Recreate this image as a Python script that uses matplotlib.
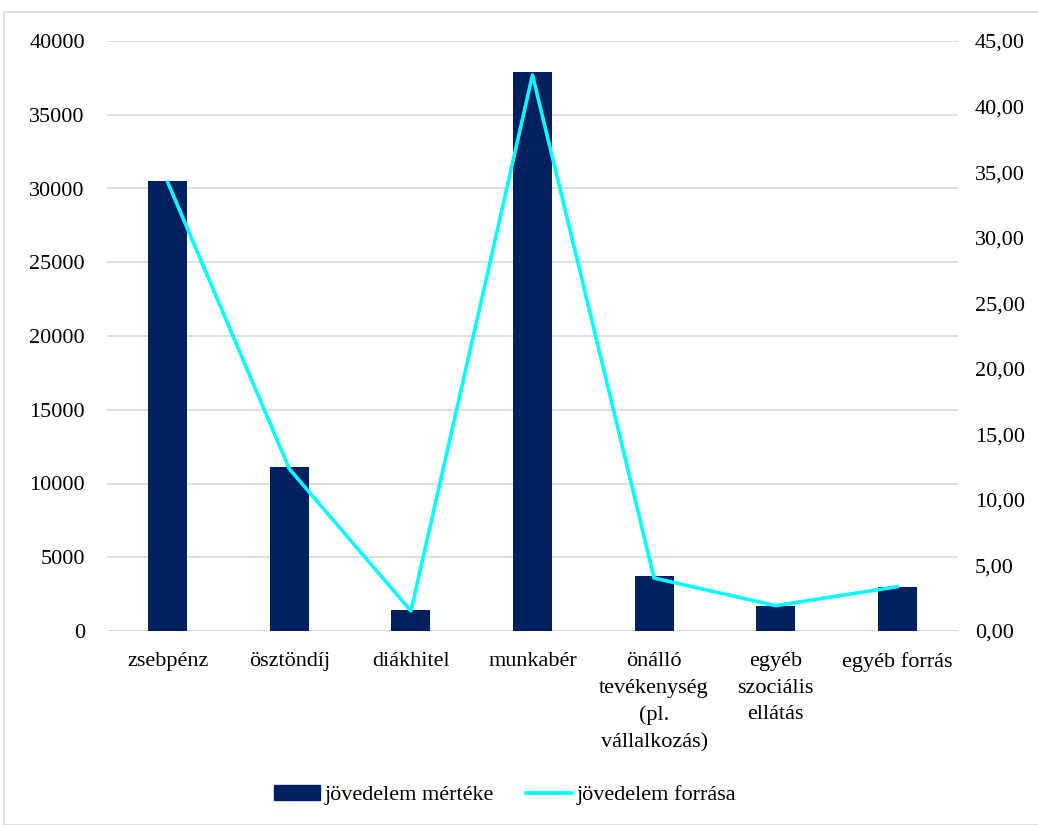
import matplotlib
matplotlib.use("Agg")
import matplotlib.pyplot as plt
from matplotlib.patches import Rectangle
from matplotlib.lines import Line2D
from matplotlib.ticker import FuncFormatter

plt.rcParams["font.family"] = ["Liberation Serif", "DejaVu Serif"]

categories = ["zsebpénz", "ösztöndíj", "diákhitel", "munkabér",
              "önálló\ntevékenység\n(pl.\nvállalkozás)", "egyéb\nszociális\nellátás",
              "egyéb forrás"]
merteke = [30500, 11100, 1420, 37900, 3730, 1720, 3000]      # left axis
forrasa = [34.22, 12.36, 1.53, 42.41, 4.04, 1.93, 3.38]      # right axis (%)
left_ticks = list(range(0, 40001, 5000))
right_ticks = list(range(0, 46, 5))

BAR = "#002060"
LINE = "#00FFFF"
GRID = "#d9d9d9"
FS = 16

fig = plt.figure(figsize=(10.38, 8.25), dpi=100)
ax = fig.add_axes([107 / 1038, 1 - 631 / 825, 851 / 1038, 590 / 825])
ax2 = ax.twinx()

x = list(range(len(categories)))
ax.bar(x, merteke, width=0.32, color=BAR, zorder=2)
ax2.plot(x, forrasa, color=LINE, lw=2.6, zorder=3)

ax.set_xlim(-0.5, len(categories) - 0.5)
ax.set_ylim(0, 40000)
ax2.set_ylim(0, 45)
ax.set_yticks(left_ticks)
ax2.set_yticks(right_ticks)
ax2.yaxis.set_major_formatter(FuncFormatter(lambda v, _: f"{v:.2f}".replace(".", ",")))
ax.set_xticks(x)
ax.set_xticklabels(categories, fontsize=FS, linespacing=1.55, va="top")

for a in (ax, ax2):
    for s in a.spines.values():
        s.set_visible(False)
    a.tick_params(length=0, labelsize=FS, colors="#000000")
ax.tick_params(axis="y", pad=16)
ax2.tick_params(axis="y", pad=12)
ax.tick_params(axis="x", pad=15)
ax.grid(axis="y", color=GRID, lw=1.2, zorder=0)
ax.set_axisbelow(True)
ax.axhline(0, color=GRID, lw=1.2, zorder=1)

handles = [Rectangle((0, 0), 1, 1, color=BAR),
           Line2D([0], [0], color=LINE, lw=2.6)]
fig.legend(handles, ["jövedelem mértéke", "jövedelem forrása"],
           loc="center", bbox_to_anchor=(505 / 1038, 1 - 795 / 825), ncol=2,
           frameon=False, fontsize=FS, handlelength=2.07, handleheight=0.63,
           columnspacing=1.45, handletextpad=0.22)

fig.add_artist(Rectangle((4 / 1038, 0), 1.1, 1 - 12 / 825, transform=fig.transFigure,
                         fill=False, edgecolor="#d9d9d9", lw=1.2))

fig.savefig("out.png", dpi=100)
